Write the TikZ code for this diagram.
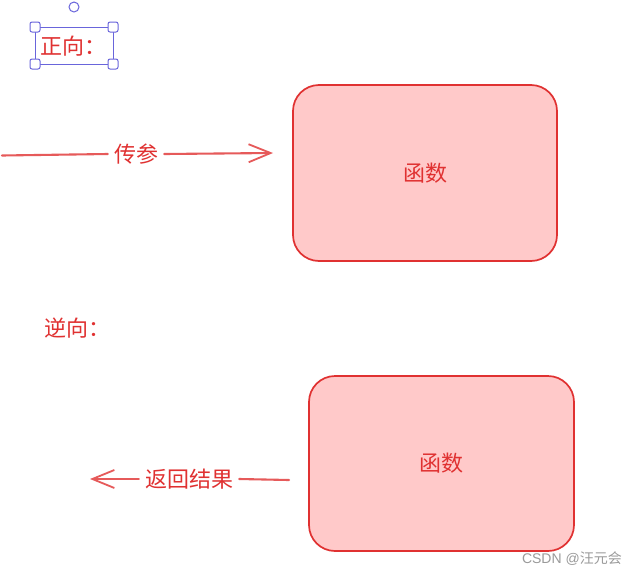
\documentclass[tikz,border=0pt]{standalone}
\usepackage{fontspec}
\setmainfont{Noto Sans CJK SC}
\newfontfamily\wmfont{Liberation Sans}
\usetikzlibrary{arrows.meta}
\definecolor{exred}{HTML}{E03131}
\definecolor{exfill}{HTML}{FFC9C9}
\definecolor{selblue}{HTML}{6965DB}
\definecolor{wmgray}{HTML}{9A9A9A}
\tikzset{
  funcbox/.style={draw=exred, fill=exfill, line width=1.7pt, rounded corners=26pt},
  redtext/.style={text=exred, font=\fontsize{22}{26}\selectfont, inner sep=1pt},
  gaplabel/.style={redtext, inner xsep=6pt},
  flow/.style={draw=exred!80, line width=2.1pt, line cap=round},
  flowtip/.style={flow, -{Straight Barb[length=22pt,width=18pt,line width=1.8pt]}},
  handle/.style={draw=selblue, fill=white, line width=1pt, rounded corners=2pt},
}
\begin{document}
\begin{tikzpicture}[x=1pt,y=-1pt]
  \useasboundingbox (0,0) rectangle (635,576);
  \fill[white] (0,0) rectangle (635,576);

  % forward call: arguments go into the function
  \draw[funcbox] (293,85) rectangle (557,261);
  \node[redtext] (f1) at (425,173) {函数};
  \node[gaplabel] (lblin) at (136,154) {传参};
  \coordinate (inS) at (2,155.5);
  \coordinate (inE) at (273,153);
  \draw[flow] (inS) -- (lblin.west);
  \draw[flowtip] (lblin.east) -- (inE);

  % backward: the result comes out of the function
  \draw[funcbox] (309,376) rectangle (574,551);
  \node[redtext] (f2) at (441,463) {函数};
  \node[gaplabel] (lblout) at (189,479) {返回结果};
  \coordinate (outS) at (289,480);
  \coordinate (outE) at (90,479);
  \draw[flow] (outS) -- (lblout.east);
  \draw[flowtip] (lblout.west) -- (outE);

  % section headings
  \node[redtext, anchor=west] (fwd) at (39,46) {正向：};
  \node[redtext, anchor=west] (bwd) at (43,328) {逆向：};

  % selection frame around the first heading
  \draw[selblue, line width=0.8pt] (35,27) rectangle (113,64);
  \draw[handle] (30,22) rectangle (40,32);
  \draw[handle] (108,22) rectangle (118,32);
  \draw[handle] (30,59) rectangle (40,69);
  \draw[handle] (108,59) rectangle (118,69);
  \draw[selblue, fill=white, line width=1pt] (74,7) circle (5);

  % watermark
  \node[text=wmgray, font=\fontsize{14}{16}\selectfont, anchor=east, inner sep=0pt] (wm) at (622,559) {{\wmfont CSDN @}汪元会};
\end{tikzpicture}
\end{document}
